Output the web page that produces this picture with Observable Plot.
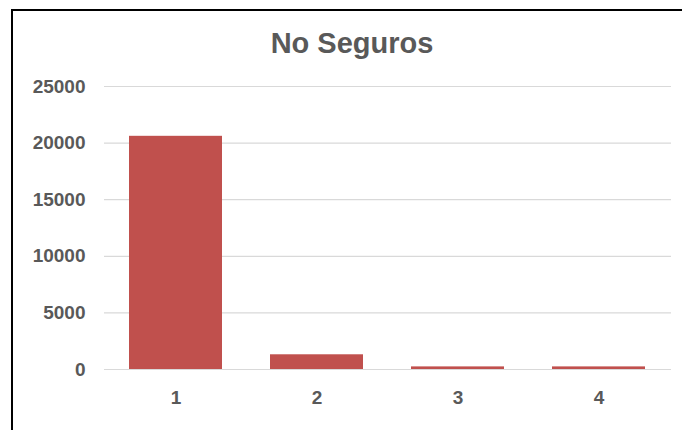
<!DOCTYPE html>
<html>
<head>
<meta charset="utf-8">
<script src="https://cdn.jsdelivr.net/npm/d3@7"></script>
<script src="https://cdn.jsdelivr.net/npm/@observablehq/plot@0.6"></script>
<style>
  html, body { margin: 0; padding: 0; background: #fff; }
  #wrap { position: relative; width: 682px; height: 430px; overflow: hidden; background: #fff; }
  #frame { position: absolute; left: 11px; top: 9px; width: 700px; height: 460px;
           border-left: 2px solid #000; border-top: 2px solid #000; box-sizing: border-box; }
  #title { position: absolute; left: 0; width: 682px; top: 27px; padding-left: 22px; box-sizing: border-box;
           text-align: center; font-family: "Liberation Sans", Arial, sans-serif; font-weight: bold;
           font-size: 29px; color: #595959; line-height: 32px; }
  #chart { position: absolute; left: 0; top: 70px; }
</style>
</head>
<body>
<div id="wrap">
  <div id="frame"></div>
  <div id="title">No Seguros</div>
  <div id="chart"></div>
</div>
<script>
const categories = ["1", "2", "3", "4"];
const values = [20600, 1300, 230, 230];
const yTicks = [0, 5000, 10000, 15000, 20000, 25000];

const data = categories.map((c, i) => ({category: c, value: values[i]}));

const plot = Plot.plot({
  width: 682,
  height: 360,
  marginTop: 16,
  marginBottom: 61,
  marginLeft: 104,
  marginRight: 11,
  style: {
    fontFamily: "'Liberation Sans', Arial, sans-serif",
    fontSize: "19px",
    fontWeight: "bold",
    color: "#595959",
    background: "transparent",
    overflow: "visible"
  },
  x: {domain: categories, paddingInner: 0.34, paddingOuter: 0.17, label: null},
  y: {domain: [0, 25000], label: null},
  marks: [
    Plot.ruleY(yTicks, {stroke: "#D9D9D9", strokeWidth: 1.2}),
    Plot.barY(data, {x: "category", y: "value", fill: "#C0504D"}),
    Plot.axisY(yTicks, {tickSize: 0, tickPadding: 19, tickFormat: d => String(d), label: null}),
    Plot.axisX({tickSize: 0, tickPadding: 21, label: null})
  ]
});
document.getElementById("chart").appendChild(plot);
</script>
</body>
</html>
